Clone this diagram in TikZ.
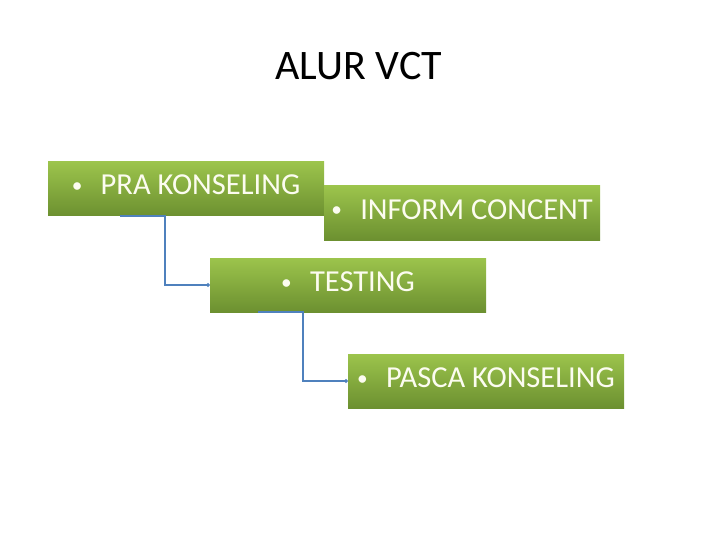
\documentclass[tikz,border=0pt]{standalone}
\usepackage{fontspec}
\setmainfont{Carlito}
\usetikzlibrary{arrows.meta}

\definecolor{boxtop}{RGB}{156,196,76}
\definecolor{boxbottom}{RGB}{108,144,48}
\definecolor{linkblue}{RGB}{79,129,189}
\definecolor{boxtext}{RGB}{252,252,240}

\newcommand{\stepdot}{\raisebox{2pt}{\scalebox{0.7}{\textbullet}}\hspace{0.6em}}

\begin{document}
\begin{tikzpicture}[x=1pt, y=-1pt,
    stepbox/.style={top color=boxtop, bottom color=boxbottom, draw=none,
        minimum width=276pt, minimum height=54pt, inner sep=0pt,
        text=boxtext, font=\fontsize{30.5}{36}\selectfont,
        text height=20pt, text depth=8pt},
    link/.style={draw=linkblue, line width=1.8pt, -{Circle[length=3.5pt]}}]
    \useasboundingbox (0,0) rectangle (720,540);

    \node (title) at (359,66) {\fontsize{42}{48}\selectfont ALUR VCT};

    \node[stepbox] (pra) at (186,189) {\stepdot PRA KONSELING};
    \node[stepbox] (inform) at (462,213) {\stepdot INFORM CONCENT};
    \node[stepbox] (test) at (348,285) {\stepdot TESTING};
    \node[stepbox] (pasca) at (486,381) {\stepdot PASCA KONSELING};

    % penghubung antar langkah
    \draw[link] ([xshift=72pt]pra.south west) -- ++(45,0) |- (test.west);
    \draw[link] ([xshift=48pt]test.south west) -- ++(45,0) |- (pasca.west);
\end{tikzpicture}
\end{document}
